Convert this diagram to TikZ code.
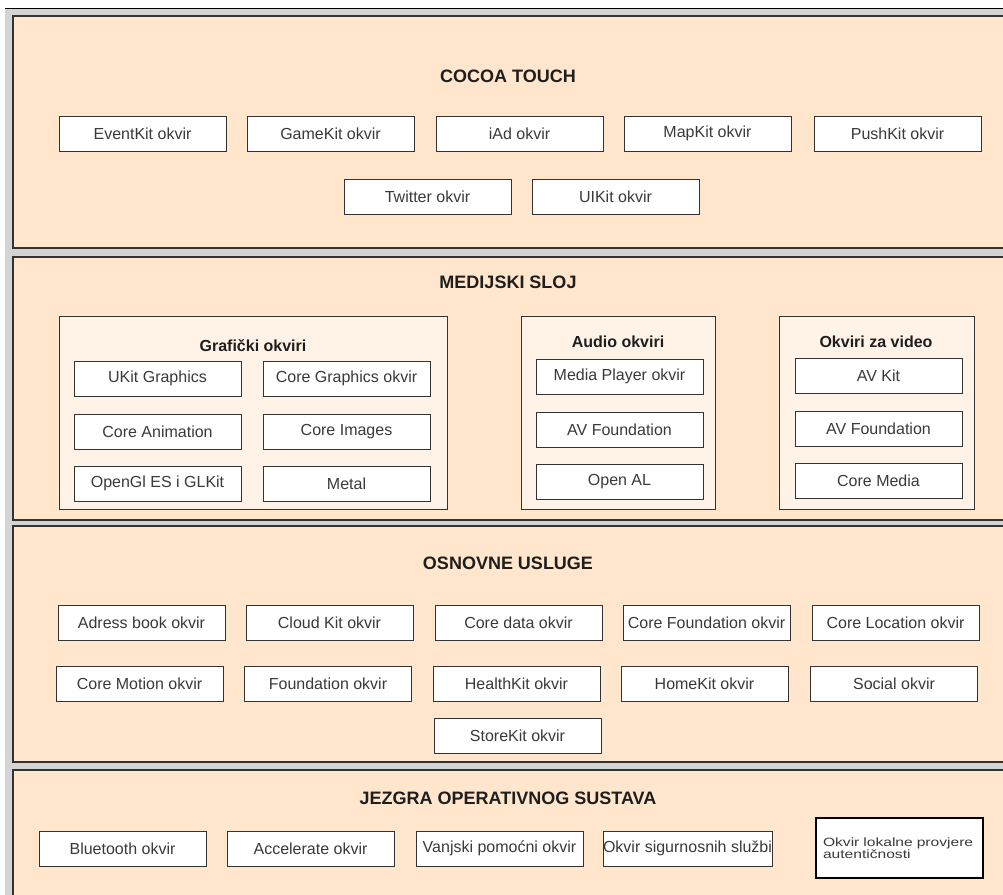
\documentclass[tikz,border=0pt]{standalone}
\usepackage{fontspec}
\setmainfont{Liberation Sans}
\newfontfamily\widefont[FakeStretch=1.3]{Liberation Sans}

\definecolor{bggrey}{HTML}{D4D4D4}
\definecolor{peach}{HTML}{FFE6CC}
\definecolor{lightpeach}{HTML}{FFF3E7}
\definecolor{linedark}{HTML}{333333}
\definecolor{textgrey}{HTML}{3A3A3A}
\definecolor{titleblack}{HTML}{1E1E1E}

\begin{document}
\begin{tikzpicture}[
    x=1pt, y=-1pt,
    layer/.style = {draw=linedark, fill=peach, line width=1.2pt},
    group/.style = {draw=linedark, fill=lightpeach, line width=0.8pt},
    fw/.style = {
      draw=linedark, fill=white, line width=0.8pt,
      minimum width=167pt, minimum height=35pt, inner sep=0pt,
      font=\fontsize{16}{19}\selectfont, text=textgrey
    },
    title/.style = {font=\fontsize{18}{21}\selectfont\bfseries, text=titleblack},
    subtitle/.style = {font=\fontsize{16}{19}\selectfont\bfseries, text=titleblack}
  ]
  \useasboundingbox (0,0) rectangle (1003,894);
  \clip (0,0) rectangle (1003,894);

  % background
  \fill [white] (0,0) rectangle (1003,894);
  \fill [bggrey] (5,8) rectangle (1010,900);
  \draw [black, line width=1pt] (5,8) -- (1010,8);

  % layers
  \draw [layer] (13,16)  rectangle (1010,248);
  \draw [layer] (13,257) rectangle (1010,520);
  \draw [layer] (13,526) rectangle (1010,762);
  \draw [layer] (13,770) rectangle (1010,905);

  % cocoa touch
  \node (cocoa) [title] at (508,76) {COCOA TOUCH};
  \node (eventkit) [fw] at (142.5,133.5) {EventKit okvir};
  \node (gamekit)  [fw] at (330.5,133.5) {GameKit okvir};
  \node (iad)      [fw] at (519.5,133.5) {iAd okvir};
  \node (mapkit)   [fw] at (707.5,133.5) {MapKit okvir};
  \node (pushkit)  [fw] at (897.5,133.5) {PushKit okvir};
  \node (twitter)  [fw] at (427.5,196.5) {Twitter okvir};
  \node (uikit)    [fw] at (615.5,196.5) {UIKit okvir};

  % medijski sloj
  \node (media) [title] at (508,282) {MEDIJSKI SLOJ};

  \draw [group] (59,316) rectangle (447,509);
  \node (graf) [subtitle] at (253,346) {Grafički okviri};
  \node (ukitg)    [fw] at (157.5,378.5) {UKit Graphics};
  \node (coregr)   [fw] at (346.5,378.5) {Core Graphics okvir};
  \node (coreanim) [fw] at (157.5,431.5) {Core Animation};
  \node (coreimg)  [fw] at (346.5,431.5) {Core Images};
  \node (opengl)   [fw] at (157.5,483.5) {OpenGl ES i GLKit};
  \node (metal)    [fw] at (346.5,483.5) {Metal};

  \draw [group] (521,316) rectangle (715,509);
  \node (audio) [subtitle] at (618,342) {Audio okviri};
  \node (mplayer) [fw] at (619.5,376.5) {Media Player okvir};
  \node (avfa)    [fw] at (619.5,429.5) {AV Foundation};
  \node (openal)  [fw] at (619.5,481.5) {Open AL};

  \draw [group] (779,316) rectangle (974,509);
  \node (video) [subtitle] at (876,342) {Okviri za video};
  \node (avkit)     [fw] at (878.5,375.5) {AV Kit};
  \node (avfv)      [fw] at (878.5,428.5) {AV Foundation};
  \node (coremedia) [fw] at (878.5,480.5) {Core Media};

  % osnovne usluge
  \node (osnovne) [title] at (508,563) {OSNOVNE USLUGE};
  \node (adress)   [fw] at (141.5,622.5) {Adress book okvir};
  \node (cloudkit) [fw] at (329.5,622.5) {Cloud Kit okvir};
  \node (coredata) [fw] at (518.5,622.5) {Core data okvir};
  \node (corefnd)  [fw] at (706.5,622.5) {Core Foundation okvir};
  \node (coreloc)  [fw] at (895.5,622.5) {Core Location okvir};
  \node (coremot)  [fw] at (139.5,683.5) {Core Motion okvir};
  \node (fnd)      [fw] at (328,683.5)   {Foundation okvir};
  \node (health)   [fw] at (516.5,683.5) {HealthKit okvir};
  \node (homekit)  [fw] at (704.5,683.5) {HomeKit okvir};
  \node (social)   [fw] at (894,683.5)   {Social okvir};
  \node (storekit) [fw] at (517.5,735.5) {StoreKit okvir};

  % jezgra
  \node (jezgra) [title] at (508,798) {JEZGRA OPERATIVNOG SUSTAVA};
  \node (bluetooth) [fw] at (122.5,848.5) {Bluetooth okvir};
  \node (accel)     [fw] at (310.5,848.5) {Accelerate okvir};
  \node (vanjski)   [fw] at (499.5,848.5) {Vanjski pomoćni okvir};
  \node (sigurn)    [fw] at (687.5,848.5) {Okvir sigurnosnih službi};
  \node (lokalna) [fw, draw=black, line width=1.6pt, minimum height=60pt,
      inner xsep=7pt, text width=153pt, align=left,
      font=\widefont\fontsize{12}{12.5}\selectfont] at (899.5,848)
    {Okvir lokalne provjere\\autentičnosti};
\end{tikzpicture}
\end{document}
